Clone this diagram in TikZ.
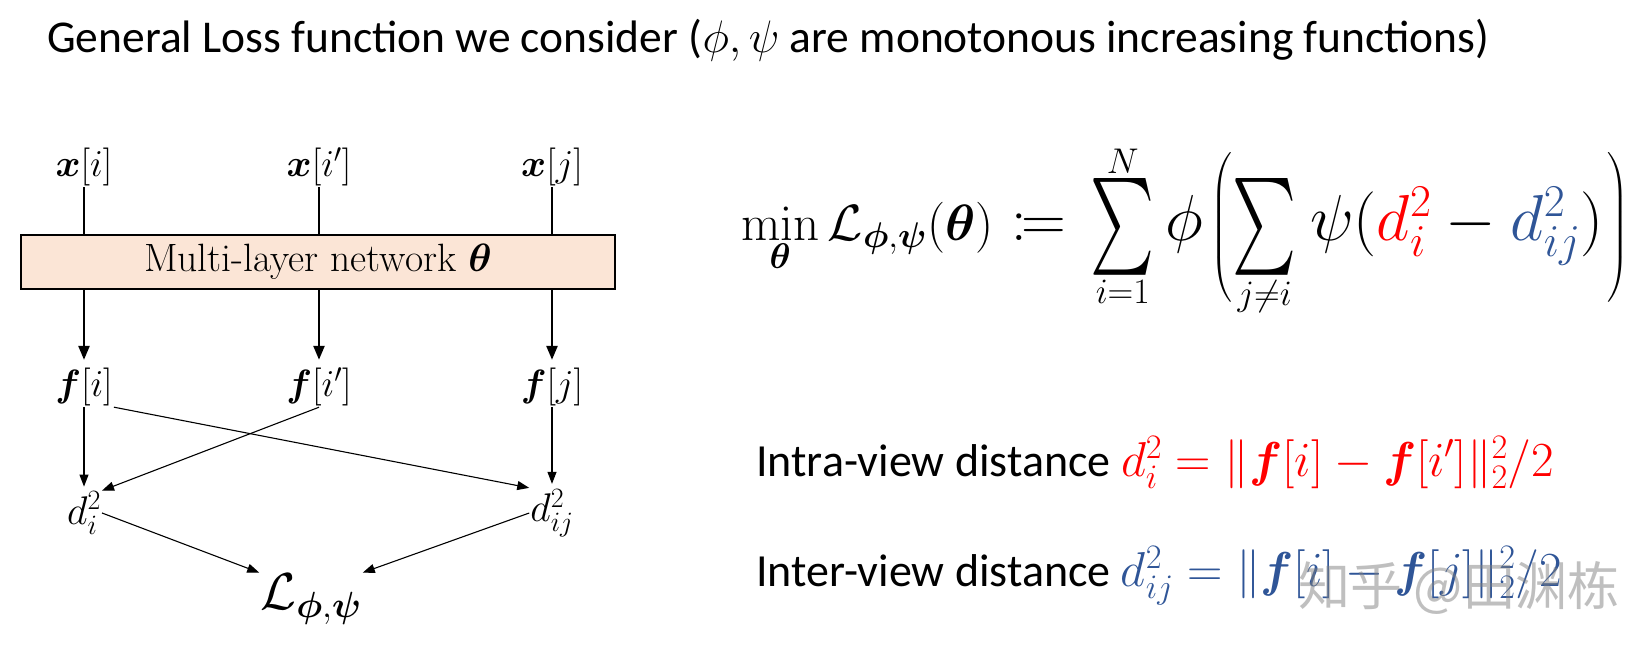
\RequirePackage{fix-cm}
\documentclass[tikz,border=0pt]{standalone}
\usepackage{amsmath}
\usepackage{graphicx}
\usepackage[no-math]{fontspec}
\newfontfamily\calibri{Carlito}
\newfontfamily\lmr{Latin Modern Roman}
\newfontfamily\cjk{Noto Sans CJK SC}
\usetikzlibrary{arrows.meta,calc}
\definecolor{boxfill}{HTML}{FBE5D6}
\definecolor{dred}{HTML}{FF0000}
\definecolor{dblue}{HTML}{2F5597}
\newcommand{\defeq}{\mathrel{\hbox{\fontsize{62}{62}\selectfont$:\mkern-1.5mu=$}}}
\newcommand{\bigsum}{\mathop{\vcenter{\hbox{\resizebox{64pt}{98pt}{$\sum$}}}}\limits}
\newcommand{\bigpart}[1]{\hbox{\fontsize{65}{67}\selectfont$#1$}}
\begin{document}
\begin{tikzpicture}[x=1pt,y=-1pt,
  lbl/.style={inner sep=1pt, font=\fontsize{38}{44}\selectfont},
  thickarrow/.style={line width=2.4pt,-{Triangle[length=14pt,width=11pt]}, shorten >=7pt},
  thinarrow/.style={line width=1.1pt,-{Triangle[length=12pt,width=9pt]}},
  tline/.style={line width=2.4pt},
  txt/.style={font=\calibri\fontsize{46}{54}\selectfont, anchor=base west, inner sep=0pt}]
\useasboundingbox (0,0) rectangle (1641,649);

\node[txt, font=\calibri\fontsize{45.5}{54}\selectfont] (title) at (47,52) {General Loss function we consider ($\phi,\psi$ are monotonous increasing functions)};

\node[lbl] (xi) at (84,167) {$\boldsymbol{x}[i]$};
\node[lbl] (xip) at (319,167) {$\boldsymbol{x}[i']$};
\node[lbl] (xj) at (552,167) {$\boldsymbol{x}[j]$};

\node[draw, line width=2.4pt, fill=boxfill, minimum width=594pt, minimum height=54pt, inner sep=0pt] (net) at (318,262) {\lmr\fontsize{39.5}{44}\selectfont Multi-layer network $\boldsymbol{\theta}$};

\node[lbl] (fi) at (84,387) {$\boldsymbol{f}[i]$};
\node[lbl] (fip) at (319,387) {$\boldsymbol{f}[i']$};
\node[lbl] (fj) at (552,387) {$\boldsymbol{f}[j]$};

\node[lbl, font=\fontsize{40}{46}\selectfont] (di) at (84,513) {$d_i^2$};
\node[lbl, font=\fontsize{40}{46}\selectfont] (dij) at (552,513) {$d_{ij}^2$};
\node[inner sep=1pt, font=\fontsize{52}{60}\selectfont] (L) at (311,599) {$\mathcal{L}_{\boldsymbol\phi,\boldsymbol\psi}$};

\foreach \n in {xi,xip,xj}
  \draw[tline] (\n.south) -- (\n.south |- net.north);
\foreach \n in {fi,fip,fj}
  \draw[thickarrow] (net.south -| \n) -- (\n.north);

\draw[thinarrow, shorten >=4pt] (fi.south) -- (di.north);
\draw[thinarrow, shorten >=4pt] (fj.south) -- (dij.north);
\draw[thinarrow] (fi.south east) -- (dij.north west);
\draw[thinarrow] (fip.south) -- (di.north east);
\draw[thinarrow] (di.east) -- (L.north west);
\draw[thinarrow] (dij.west) -- (L.north east);

\node[anchor=base west, inner sep=0pt, font=\fontsize{51}{58}\selectfont] (loss) at (741,240)
  {$\displaystyle \min_{\boldsymbol\theta}\mathcal{L}_{\boldsymbol\phi,\boldsymbol\psi}(\boldsymbol\theta)\hskip4pt \defeq\hskip10pt \bigsum_{i=1}^{N}\hskip2pt\bigpart{\phi}\hskip8pt\Biggl(\bigsum_{j\neq i}\hskip5pt\bigpart{\psi(\textcolor{dred}{d_i^2}-\textcolor{dblue}{d_{ij}^2})}\hskip4pt\Biggr)$};

\node[txt] (intra) at (756,476) {Intra-view distance \textcolor{dred}{$\fontsize{49}{54}\selectfont d_i^2=\|\boldsymbol f[i]-\boldsymbol f[i']\|_2^2/2$}};
\node[txt] (inter) at (756,586) {Inter-view distance \textcolor{dblue}{$\fontsize{49}{54}\selectfont d_{ij}^2=\|\boldsymbol f[i]-\boldsymbol f[j]\|_2^2/2$}};

\node[anchor=base west, inner sep=0pt, font=\cjk\fontsize{52}{60}\selectfont, text=gray, text opacity=0.5] (wm) at (1298,605) {知乎 @田渊栋};
\end{tikzpicture}
\end{document}
